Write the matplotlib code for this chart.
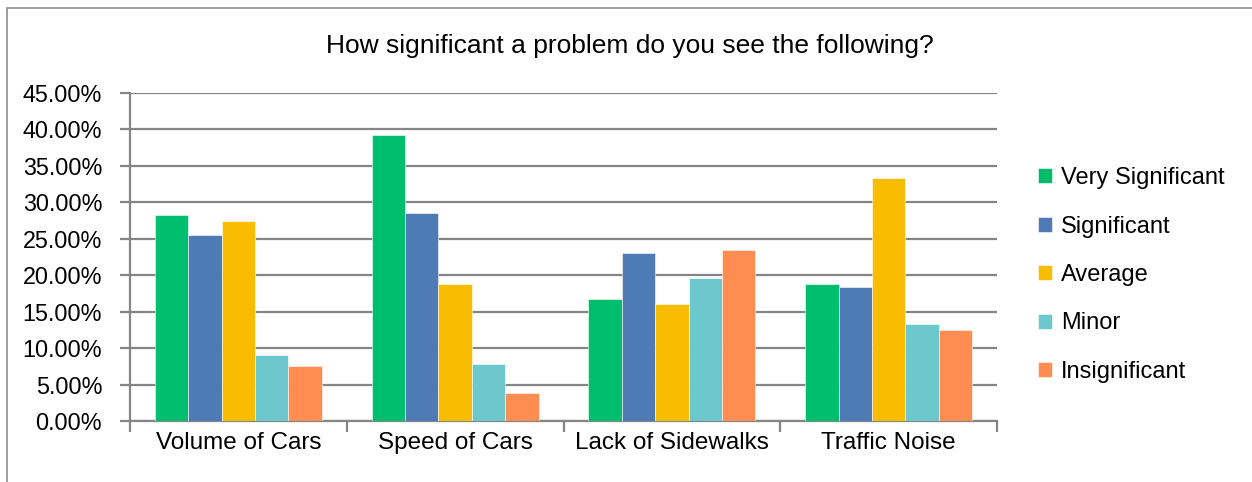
import matplotlib.pyplot as plt
import matplotlib.patches as mpatches
from matplotlib.ticker import FuncFormatter, MultipleLocator
import numpy as np

categories = ["Volume of Cars", "Speed of Cars", "Lack of Sidewalks", "Traffic Noise"]
series_names = ["Very Significant", "Significant", "Average", "Minor", "Insignificant"]
very_significant = [28.2, 39.2, 16.8, 18.8]
significant = [25.5, 28.6, 23.1, 18.4]
average = [27.4, 18.8, 16.0, 33.3]
minor = [9.0, 7.8, 19.6, 13.3]
insignificant = [7.5, 3.8, 23.5, 12.5]
colors = ["#00BE6E", "#4E7AB5", "#F8BC00", "#6CC8CC", "#FF8C50"]

plt.rcParams["font.family"] = ["Liberation Sans", "DejaVu Sans"]

fig = plt.figure(figsize=(12.52, 4.82), dpi=100)
ax = fig.add_axes([130 / 1252, 61 / 482, 867 / 1252, 328 / 482])

values = [very_significant, significant, average, minor, insignificant]
x = np.arange(len(categories))
width = 0.154
for i, (name, vals) in enumerate(zip(series_names, values)):
    ax.bar(x + (i - 2) * width, vals, width, color=colors[i], label=name,
           edgecolor="white", linewidth=0.4, zorder=3)

grid_col = "#858585"
ax.set_ylim(0, 45)
ax.set_xlim(-0.5, len(categories) - 0.5)
ax.yaxis.set_major_locator(MultipleLocator(5))
ax.yaxis.set_major_formatter(FuncFormatter(lambda v, p: f"{v:.2f}%"))
ax.grid(axis="y", color=grid_col, linewidth=1.6, zorder=0)
ax.set_axisbelow(True)

ax.set_xticks(x)
ax.set_xticklabels(categories)
ax.set_xticks(np.arange(-0.5, len(categories)), minor=True)
ax.tick_params(axis="x", which="major", length=0, pad=8, labelsize=17.5)
ax.tick_params(axis="x", which="minor", length=8, width=1.6, color=grid_col)
ax.tick_params(axis="y", length=7, width=1.6, color=grid_col, labelsize=16.8, pad=13)

for s in ["top", "right"]:
    ax.spines[s].set_visible(False)
for s in ["left", "bottom"]:
    ax.spines[s].set_color(grid_col)
    ax.spines[s].set_linewidth(1.6)

fig.text(630 / 1252, 1 - 46 / 482, "How significant a problem do you see the following?",
         ha="center", va="center", fontsize=19)

fig.legend(loc="center left", bbox_to_anchor=(1017 / 1252, 1 - 275 / 482),
           frameon=False, fontsize=17, handlelength=0.6, handleheight=0.6,
           handletextpad=0.35, labelspacing=1.12)

border = mpatches.Rectangle((7 / 1252, -0.01), 1.0, 1 - 8 / 482 + 0.01,
                            transform=fig.transFigure, fill=False,
                            edgecolor="#8C8C8C", linewidth=1.2)
fig.patches.append(border)

plt.savefig("out.png", dpi=100)
